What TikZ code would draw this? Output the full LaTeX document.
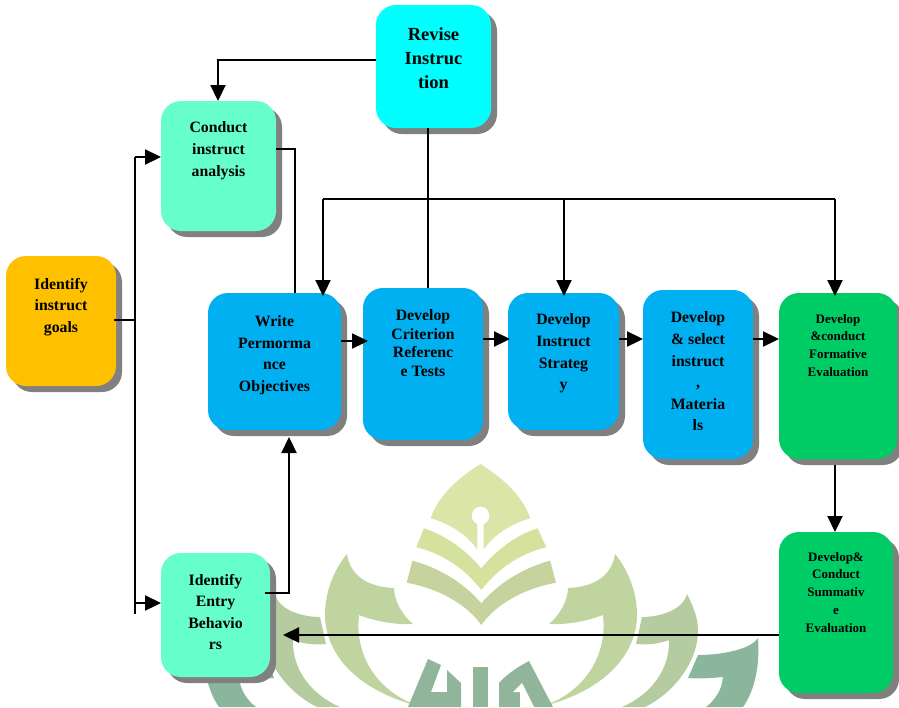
\documentclass[tikz,border=0pt]{standalone}
\usepackage{fontspec}
\setmainfont{Liberation Serif}
\usetikzlibrary{arrows.meta,shadows}
\definecolor{cyanbox}{HTML}{00FFFF}
\definecolor{mint}{HTML}{66FFCC}
\definecolor{amber}{HTML}{FFC000}
\definecolor{bluebox}{HTML}{00B0F0}
\definecolor{greenbox}{HTML}{00CC66}
\definecolor{shadowgray}{HTML}{808080}
\definecolor{wa}{HTML}{DCE5A8}
\definecolor{wb}{HTML}{D5E29E}
\definecolor{wc}{HTML}{C6D39E}
\definecolor{wd}{HTML}{C0D4A0}
\definecolor{we}{HTML}{B5CBA0}
\definecolor{wf}{HTML}{8AB79B}
\definecolor{wg}{HTML}{90B59A}
\tikzset{
  flowbox/.style={rounded corners=20pt,inner sep=0pt,outer sep=0pt,
    drop shadow={shadow xshift=6pt,shadow yshift=-6pt,fill=shadowgray,opacity=1}},
  link/.style={line width=2.3pt,draw=black},
  flow/.style={link,-{Triangle[length=16pt,width=15pt]}}
}
\newcommand\fa{\fontsize{15.8}{21.6}\selectfont\bfseries}
\newcommand\fat{\fontsize{15.8}{18.4}\selectfont\bfseries}
\newcommand\fb{\fontsize{18.5}{24}\selectfont\bfseries}
\newcommand\fc{\fontsize{13}{17.8}\selectfont\bfseries}
\newcommand\fd{\fontsize{13}{17.8}\selectfont\bfseries}
\newcommand\bx[9]{%
  \pgfmathsetmacro\bxw{#4-#2}\pgfmathsetmacro\bxh{#5-#3}%
  \node[flowbox,fill=#6,minimum width=\bxw pt,minimum height=\bxh pt] (#1) at ({(#2+#4)/2},{(#3+#5)/2})
   {\parbox[c][\bxh pt][t]{\bxw pt}{#7\centering\vspace*{#8pt}#9\par}};}
\newcommand\halfmark{%
  \fill[wd] (615,554) .. controls (630,572) and (637,595) .. (637,615)
     .. controls (637,650) and (610,690) .. (540,707)
     .. controls (580,695) and (608,660) .. (603,615)
     .. controls (590,620) and (570,625) .. (549,624)
     .. controls (560,615) and (568,600) .. (568,588)
     .. controls (595,587) and (612,575) .. (615,554) -- cycle;
  \fill[we] (687,594) .. controls (695,610) and (698,620) .. (698,630)
     .. controls (698,665) and (670,695) .. (645,707) -- (622,707)
     .. controls (650,695) and (670,670) .. (669,640)
     .. controls (658,644) and (648,645) .. (636,644) -- (642,617)
     .. controls (660,617) and (683,610) .. (687,594) -- cycle;
  \fill[wf] (758,638) .. controls (750,650) and (720,655) .. (698,655) -- (688,678)
     .. controls (700,679) and (712,678) .. (723,677)
     .. controls (722,690) and (715,700) .. (706,707) -- (743,707)
     .. controls (755,690) and (760,665) .. (758,638) -- cycle;
}
\begin{document}
\begin{tikzpicture}[x=1pt,y=-1pt]
\useasboundingbox (0,0) rectangle (899,707);
\begin{scope}
\clip (0,0) rectangle (899,707);
\begin{scope}[shift={(200,440)},x=0.3827pt,y=-0.3333pt]
  \fill[wa] (733,72) .. controls (800,120) and (845,175) .. (863,235)
     .. controls (815,250) and (765,285) .. (741,330) -- (741,250)
     -- (725,250) -- (725,330)
     .. controls (700,285) and (650,250) .. (603,235)
     .. controls (620,175) and (665,120) .. (733,72) -- cycle;
  \fill[white] (733,227) ellipse (23 and 27);
  \fill[wb] (585,265) .. controls (640,285) and (695,330) .. (735,385)
     .. controls (775,330) and (825,285) .. (882,265) -- (905,322)
     .. controls (835,340) and (775,390) .. (735,450)
     .. controls (695,390) and (635,340) .. (565,322) -- cycle;
  \fill[wc] (555,362) .. controls (630,385) and (695,435) .. (735,490)
     .. controls (775,435) and (840,385) .. (915,362) -- (930,428)
     .. controls (850,445) and (775,490) .. (735,555)
     .. controls (695,490) and (620,445) .. (540,428) -- cycle;
\end{scope}
\halfmark
\begin{scope}[shift={(962,0)},xscale=-1]
  \halfmark
\end{scope}
\fill[wg] (428,659) -- (441,665) -- (431,692) -- (447,692) -- (447,670) -- (461,683)
   -- (461,707) -- (408,707) -- cycle;
\fill[wg] (473,667) rectangle (488,707);
\fill[wg] (529,661) -- (553,707) -- (499,707) -- (499,683) .. controls (508,673) and (518,667) .. (529,661) -- cycle;
\fill[white] (522,683) -- (513,692) -- (520,692) -- (520,707) -- (534,707) -- cycle;
\end{scope}
\bx{revise}{376}{5}{491}{128}{cyanbox}{\fb}{22.5}{Revise\\Instruc\\tion}
\bx{cond}{161}{101}{276}{231}{mint}{\fa}{21}{Conduct\\instruct\\analysis}
\bx{goals}{6}{256}{116}{386}{amber}{\fa}{22}{Identify\\instruct\\goals}
\bx{write}{208}{293}{341}{430}{bluebox}{\fa}{22.5}{Write\\Permorma\\nce\\Objectives}
\bx{crit}{363}{288}{483}{440}{bluebox}{\fat}{22}{Develop\\Criterion\\Referenc\\e Tests}
\bx{strat}{508}{293}{619}{430}{bluebox}{\fa}{21}{Develop\\Instruct\\Strateg\\y}
\bx{mat}{643}{290}{753}{459}{bluebox}{\fa}{22}{Develop\\\& select\\instruct\\,\\Materia\\ls}
\bx{form}{779}{293}{897}{459}{greenbox}{\fc}{21}{Develop\\\&conduct\\Formative\\Evaluation}
\bx{summ}{779}{532}{893}{693}{greenbox}{\fd}{20}{Develop\&\\Conduct\\Summativ\\e\\Evaluation}
\bx{entry}{161}{553}{270}{677}{mint}{\fa}{21}{Identify\\Entry\\Behavio\\rs}
% connectors
\coordinate (busL) at (323,199);
\coordinate (busM) at (564,199);
\coordinate (busR) at (835,199);
\coordinate (trunk) at (135,320);
\draw[flow] (revise.west |- 0,60) -- (218,60) -- (cond.north -| 218,0);
\draw[link] (revise.south -| 428,0) -- (crit.north -| 428,0);
\draw[link] (cond.east |- 0,149) -- (295,149) -- (write.north -| 295,0);
\draw[link] (busL) -- (busR);
\draw[flow] (busL) -- ([yshift=-3pt]write.north -| busL);
\draw[flow] (busM) -- ([yshift=-3pt]strat.north -| busM);
\draw[flow] (busR) -- ([yshift=-3pt]form.north -| busR);
\draw[link] ([xshift=-2pt]goals.east |- trunk) -- (trunk);
\draw[link] (135,614) -- (135,157);
\draw[flow] (135,157) -- (cond.west |- 0,157);
\draw[flow] (135,603) -- (entry.west |- 0,603);
\draw[flow] ([xshift=-5pt]entry.east |- 0,593) -- (289,593) -- ([yshift=-7pt]write.south -| 289,0);
\draw[flow] (write.east |- 0,341) -- ([xshift=5pt]crit.west |- 0,341);
\draw[flow] (crit.east |- 0,339) -- ([xshift=2pt]strat.west |- 0,339);
\draw[flow] (strat.east |- 0,339) -- (mat.west |- 0,339);
\draw[flow] (mat.east |- 0,339) -- (form.west |- 0,339);
\draw[flow] ([yshift=-6pt]form.south -| busR) -- (summ.north -| busR);
\draw[flow] (summ.west |- 0,635) -- ([xshift=13pt]entry.east |- 0,635);
\end{tikzpicture}
\end{document}
